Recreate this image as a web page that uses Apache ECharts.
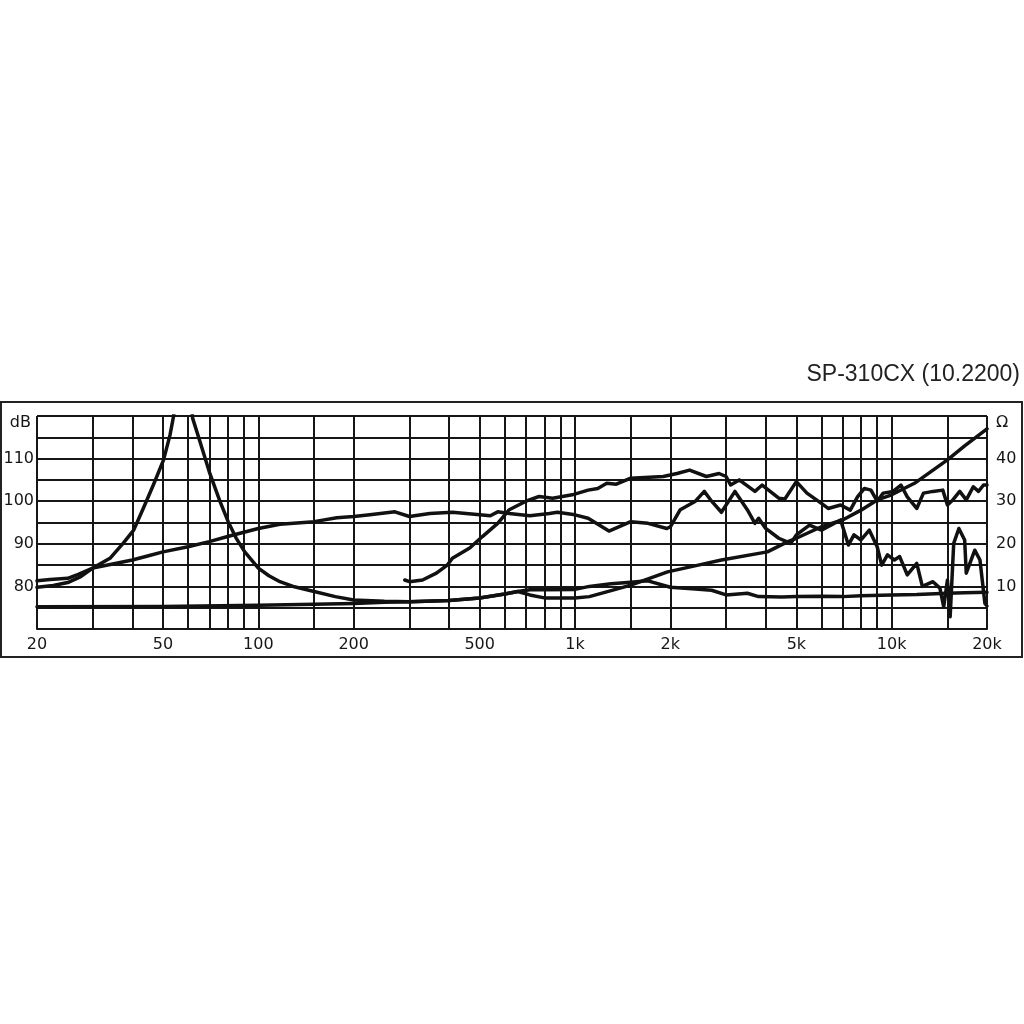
<!DOCTYPE html>
<html><head><meta charset="utf-8">
<script src="https://cdn.jsdelivr.net/npm/echarts@6/dist/echarts.min.js"></script>
<style>html,body{margin:0;padding:0;background:#fff}#c{width:1024px;height:1024px}</style>
</head><body><div id="c"></div>
<script>
const chartTitle = 'SP-310CX (10.2200)';
const freqLabels = [20,50,100,200,500,1000,2000,5000,10000,20000];
const freqGrid = [20,30,40,50,60,70,80,90,100,150,200,300,400,500,600,700,800,900,1000,1500,2000,3000,4000,5000,6000,7000,8000,9000,10000,15000,20000];
const dbLabels = [80,90,100,110];
const ohmLabels = [10,20,30,40];

// Woofer SPL (dB)
const wooferSplFreq = [20,22,25,27,30,35,40,45,50,60,70,80,90,100,117,150,177,200,225,270,300,348,410,500,540,570,620,720,830,880,1000,1100,1280,1500,1700,1950,2000,2150,2400,2560,2700,2900,3200,3500,3700,3800,4000,4400,4800,5000,5500,6000,6900,7300,7600,8000,8500,9000,9300,9700,10200,10600,11200,12000,12500,13500,14200,14600,15000,15300,15700,16300,17000,17200,18300,19000,19700,20000];
const wooferSplDb = [81.3,81.6,81.9,82.8,84.3,85.3,86.2,87.2,88.1,89.3,90.5,91.7,92.7,93.6,94.6,95.2,96.1,96.4,96.8,97.5,96.4,97.1,97.4,96.8,96.6,97.5,97.1,96.6,97.1,97.4,96.8,96.0,93.0,95.2,94.8,93.6,94.0,98.0,100.0,102.3,100.0,97.4,102.3,98.0,94.8,96.0,93.6,91.3,90.1,92.1,94.4,93.2,95.6,89.7,92.1,90.9,93.2,89.3,85.0,87.4,86.2,87.0,82.7,85.4,80.0,81.1,79.6,75.2,81.5,72.9,90.1,93.6,90.9,83.1,88.5,86.2,76.0,75.4];

// Tweeter SPL (dB)
const tweeterSplFreq = [290,300,330,365,395,410,465,510,570,620,700,770,850,980,1100,1180,1260,1350,1500,1900,2100,2300,2600,2850,3000,3100,3300,3700,3900,4400,4600,5000,5400,6000,6300,6900,7400,7800,8200,8600,9000,9400,10100,10700,11200,12000,12600,13500,14500,15000,15600,16400,17200,18100,18800,19500,20000];
const tweeterSplDb = [81.5,81.1,81.5,83.1,85.0,86.6,89.0,91.7,94.8,98.0,100.0,101.1,100.7,101.5,102.6,103.0,104.2,104.0,105.4,105.8,106.5,107.3,105.8,106.5,105.8,103.8,105.0,102.3,103.8,100.7,100.5,104.6,101.9,99.5,98.3,99.1,97.9,101.0,103.0,102.6,100.0,101.9,102.3,103.8,101.0,98.3,101.9,102.3,102.6,99.1,100.3,102.3,100.3,103.4,102.3,103.8,103.8];

// Woofer impedance (Ohm)
const wooferZFreq = [20,22.5,25,27.5,30,34,37.4,40.4,43.3,46.6,50.2,52.6,54,56,58,60,62,65.4,70,75.6,80.3,85,90.6,100,108,117,130,150,175,200,250,300,400,500,600,660,720,800,900,1000,1110,1300,1500,1960,2450,2900,4050,4700,5000,6000,7000,8000,9000,10000,11800,15000,17000,20000];
const wooferZOhm = [9.8,10.2,10.9,12.3,14.3,16.6,20.1,23.2,28.3,33.8,39.7,45.5,50,62,70,62,49.5,44,36.9,30,25.2,21.4,18.1,14.3,12.5,11.1,9.9,8.8,7.6,6.8,6.5,6.4,6.7,7.3,8.2,8.8,8.0,7.3,7.3,7.3,7.6,9.0,10.3,13.4,15.0,16.2,18.1,20.5,21.3,24.0,25.6,27.9,30.3,31.5,34.2,39.7,43.0,47.0];

// Tweeter impedance (Ohm)
const tweeterZFreq = [20,50,100,150,200,250,300,400,500,600,660,720,800,1000,1110,1300,1500,1700,2000,2400,2700,3000,3500,3800,4500,5000,6000,7000,8000,10000,12000,15000,17000,20000];
const tweeterZOhm = [5.2,5.3,5.6,5.8,6.0,6.3,6.4,6.7,7.3,8.2,8.8,9.2,9.2,9.3,10.0,10.6,11.0,11.3,9.8,9.4,9.1,8.0,8.4,7.6,7.5,7.6,7.7,7.6,7.8,8.0,8.1,8.4,8.5,8.6];

const lg = v => Math.log10(v);
const pairs = (fs, vs) => fs.map((f, i) => [lg(f), vs[i]]);
const fmtFreq = v => {
  const f = Math.round(Math.pow(10, v));
  return f >= 1000 ? (f / 1000) + 'k' : String(f);
};

const ink = '#161616';
const labelFont = { fontFamily: 'DejaVu Sans', fontSize: 16, color: ink };
const lineSeries = (name, data, yIdx) => ({
  name, type: 'line', data, yAxisIndex: yIdx, showSymbol: false, symbol: 'none',
  smooth: false, clip: true, animation: false,
  lineStyle: { color: '#111', width: 3.5, join: 'round', cap: 'round' }, z: 5
});

const chart = echarts.init(document.getElementById('c'), null, { renderer: 'canvas' });
chart.setOption({
  animation: false,
  backgroundColor: '#fff',
  grid: { left: 37, top: 416, width: 950, height: 213, containLabel: false },
  xAxis: {
    type: 'value', min: lg(20), max: lg(20000),
    axisLine: { show: true, lineStyle: { color: ink, width: 2 } },
    axisTick: { show: false, customValues: freqGrid.map(lg) },
    splitLine: { show: true, lineStyle: { color: ink, width: 2 } },
    axisLabel: Object.assign({ customValues: freqLabels.map(lg), formatter: fmtFreq, margin: 8 }, labelFont)
  },
  yAxis: [{
    type: 'value', min: 70, max: 120, interval: 5, position: 'left',
    axisLine: { show: false }, axisTick: { show: false },
    splitLine: { show: true, lineStyle: { color: ink, width: 2 } },
    axisLabel: Object.assign({ customValues: dbLabels, margin: 3 }, labelFont)
  }, {
    type: 'value', min: 0, max: 50, interval: 10, position: 'right',
    axisLine: { show: false }, axisTick: { show: false }, splitLine: { show: false },
    axisLabel: Object.assign({ customValues: ohmLabels, margin: 9 }, labelFont)
  }],
  series: [
    lineSeries('Woofer SPL', pairs(wooferSplFreq, wooferSplDb), 0),
    lineSeries('Tweeter SPL', pairs(tweeterSplFreq, tweeterSplDb), 0),
    lineSeries('Woofer Z', pairs(wooferZFreq, wooferZOhm), 1),
    lineSeries('Tweeter Z', pairs(tweeterZFreq, tweeterZOhm), 1)
  ],
  graphic: [
    { type: 'rect', shape: { x: 1, y: 402, width: 1021, height: 255 },
      style: { fill: 'none', stroke: '#222', lineWidth: 2 }, z: 1 },
    { type: 'text', x: 1020, y: 375,
      style: { text: chartTitle, align: 'right', verticalAlign: 'middle',
               font: '23px "Liberation Sans", Arial, sans-serif', fill: '#222' } },
    { type: 'text', x: 31, y: 423,
      style: { text: 'dB', align: 'right', verticalAlign: 'middle',
               font: '16px "DejaVu Sans", sans-serif', fill: ink } },
    { type: 'text', x: 996, y: 423,
      style: { text: 'Ω', align: 'left', verticalAlign: 'middle',
               font: '16px "DejaVu Sans", sans-serif', fill: ink } }
  ]
});
</script></body></html>
